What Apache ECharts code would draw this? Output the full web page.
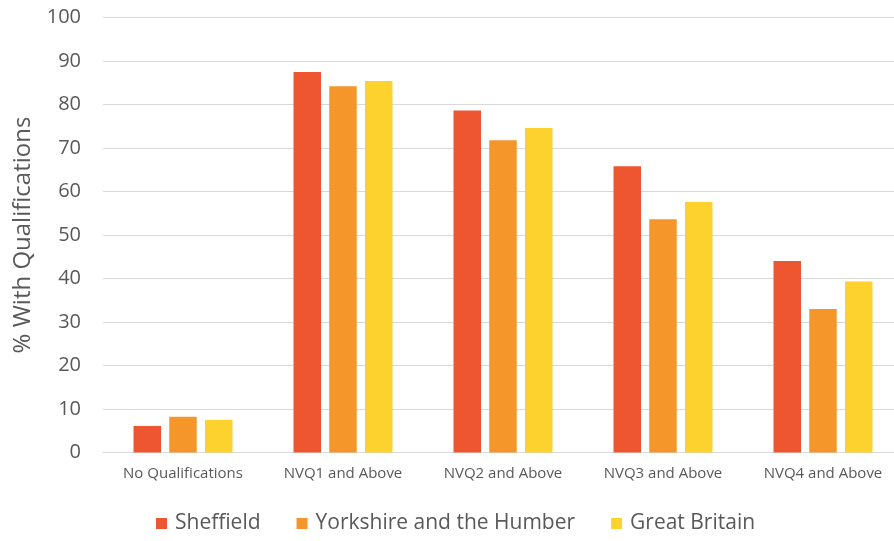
<!DOCTYPE html>
<html>
<head>
<meta charset="utf-8">
<script src="https://cdn.jsdelivr.net/npm/echarts@6/dist/echarts.min.js"></script>
<style>
  html, body { margin: 0; padding: 0; background: #fff; }
  #chart { width: 894px; height: 541px; }
</style>
</head>
<body>
<div id="chart"></div>
<script>
// Qualification levels of the working-age population (%)
const categories = ['No Qualifications', 'NVQ1 and Above', 'NVQ2 and Above', 'NVQ3 and Above', 'NVQ4 and Above'];
const sheffield = [6.1, 87.5, 78.6, 65.8, 44.0];
const yorkshire = [8.2, 84.2, 71.8, 53.6, 33.0];
const greatBritain = [7.5, 85.4, 74.6, 57.6, 39.3];
const yTicks = { min: 0, max: 100, interval: 10 };

const textColor = '#595959';
const font = '"Open Sans", "Noto Sans", sans-serif';

const chart = echarts.init(document.getElementById('chart'));
chart.setOption({
  animation: false,
  textStyle: { fontFamily: font },
  // plot runs slightly past the right edge of the canvas
  grid: { left: 103, width: 800, top: 17.5, bottom: 88.5, containLabel: false, outerBoundsMode: 'none' },
  legend: {
    bottom: 2,
    left: 151,
    itemWidth: 11,
    itemHeight: 11,
    itemGap: 36,
    icon: 'rect',
    textStyle: { color: textColor, fontSize: 21, fontFamily: font, padding: [0, 0, 0, 3] },
    data: ['Sheffield', 'Yorkshire and the Humber', 'Great Britain']
  },
  xAxis: {
    type: 'category',
    data: categories,
    axisLine: { lineStyle: { color: '#d9d9d9' } },
    axisTick: { show: false },
    axisLabel: { color: textColor, fontSize: 15, margin: 14, interval: 0, hideOverlap: false }
  },
  yAxis: {
    type: 'value',
    min: yTicks.min,
    max: yTicks.max,
    interval: yTicks.interval,
    name: '% With Qualifications',
    nameLocation: 'middle',
    nameGap: 68,
    nameTextStyle: { color: textColor, fontSize: 24, fontFamily: font },
    axisLine: { show: false },
    axisTick: { show: false },
    axisLabel: { color: textColor, fontSize: 20, margin: 22 },
    splitLine: { lineStyle: { color: '#d9d9d9', width: 1 } }
  },
  series: [
    { name: 'Sheffield', type: 'bar', data: sheffield, itemStyle: { color: '#EE5631' },
      barWidth: 27.5, barGap: '30%', barCategoryGap: '38%' },
    { name: 'Yorkshire and the Humber', type: 'bar', data: yorkshire, itemStyle: { color: '#F5962A' },
      barWidth: 27.5 },
    { name: 'Great Britain', type: 'bar', data: greatBritain, itemStyle: { color: '#FDD12E' },
      barWidth: 27.5 }
  ]
});
</script>
</body>
</html>
